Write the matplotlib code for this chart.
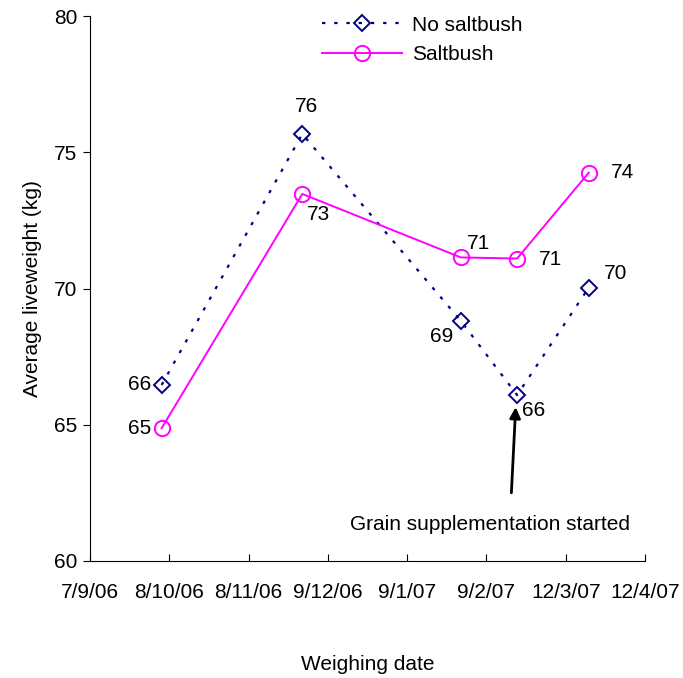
import datetime as dt
import matplotlib
matplotlib.use("Agg")
import matplotlib.pyplot as plt
import matplotlib.dates as mdates

plt.rcParams['font.family'] = ['Liberation Sans', 'DejaVu Sans']

# weighing dates (d/m/yy) and liveweights
dates = [dt.date(2006, 10, 5), dt.date(2006, 11, 29), dt.date(2007, 1, 30),
         dt.date(2007, 2, 21), dt.date(2007, 3, 21)]
no_saltbush = [66.46, 75.67, 68.81, 66.09, 70.03]
saltbush = [64.87, 73.47, 71.14, 71.10, 74.25]
no_labels = ['66', '76', '69', '66', '70']
salt_labels = ['65', '73', '71', '71', '74']
tick_dates = [dt.date(2006, 9, 7), dt.date(2006, 10, 8), dt.date(2006, 11, 8),
              dt.date(2006, 12, 9), dt.date(2007, 1, 9), dt.date(2007, 2, 9),
              dt.date(2007, 3, 12), dt.date(2007, 4, 12)]
tick_labels = ['7/9/06', '8/10/06', '8/11/06', '9/12/06', '9/1/07', '9/2/07',
               '12/3/07', '12/4/07']

fig = plt.figure(figsize=(6.83, 6.78), dpi=100)
ax = fig.add_axes([90/683, 1 - 561/678, (645 - 90)/683, (561 - 16)/678])

ax.plot(dates, no_saltbush, color='#000080', linestyle=(0, (1.5, 4)), linewidth=1.6,
        marker='D', markersize=8, markerfacecolor='none', markeredgewidth=1.4,
        label='No saltbush')
ax.plot(dates, saltbush, color='#ff00ff', linestyle='-', linewidth=1.4,
        marker='o', markersize=11, markerfacecolor='none', markeredgewidth=1.4,
        label='Saltbush')

fs = 15
# data labels, offsets in points
no_off = [(-16, 0), (3, 20), (-14, -11), (12, -11), (19, 10)]
salt_off = [(-16, 0), (12, -15), (13, 10), (24, -1), (24, 0)]
for d, v, t, o in zip(dates, no_saltbush, no_labels, no_off):
    ax.annotate(t, (mdates.date2num(d), v), xytext=o, textcoords='offset points',
                ha='center', va='center', fontsize=fs)
for d, v, t, o in zip(dates, saltbush, salt_labels, salt_off):
    ax.annotate(t, (mdates.date2num(d), v), xytext=o, textcoords='offset points',
                ha='center', va='center', fontsize=fs)

# arrow for grain supplementation
ax.annotate('', xy=(mdates.date2num(dates[3]) - 0.5, 65.75),
            xytext=(mdates.date2num(dates[3]) - 2.3, 62.4),
            arrowprops=dict(arrowstyle='-|>', color='black', lw=2, mutation_scale=16))
ax.text(mdates.date2num(dt.date(2007, 2, 10)) + 0.5, 61.35, 'Grain supplementation started',
        ha='center', va='center', fontsize=fs)

ax.set_xlim(mdates.date2num(tick_dates[0]), mdates.date2num(tick_dates[-1]))
ax.set_ylim(60, 80)
ax.set_xticks([mdates.date2num(d) for d in tick_dates])
ax.set_xticklabels(tick_labels)
ax.set_yticks([60, 65, 70, 75, 80])
ax.tick_params(axis='x', direction='in', length=5, pad=16, labelsize=fs)
ax.tick_params(axis='y', direction='out', length=5, pad=4, labelsize=fs)
for s in ['top', 'right']:
    ax.spines[s].set_visible(False)

ax.set_xlabel('Weighing date', fontsize=fs, labelpad=38)
ax.set_ylabel('Average liveweight (kg)', fontsize=fs, labelpad=9)

ax.legend(loc='upper left', bbox_to_anchor=(0.385, 1.035), frameon=False, fontsize=fs,
          handlelength=3.8, handletextpad=0.5, labelspacing=0.5)

fig.savefig('out.png', dpi=100)
